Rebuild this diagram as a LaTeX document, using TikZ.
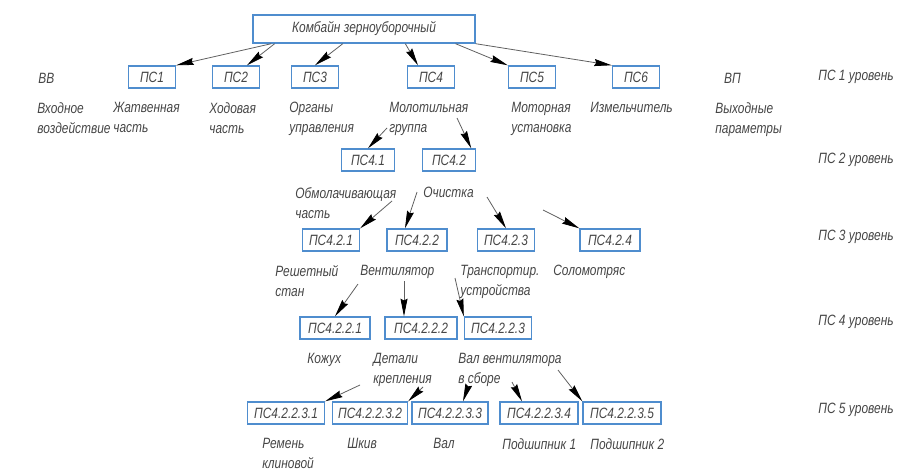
\documentclass[tikz,border=0pt]{standalone}
\usepackage{fontspec}
\setmainfont{Liberation Sans}[FakeStretch=0.8]
\usetikzlibrary{arrows.meta,calc}

\definecolor{boxblue}{RGB}{79,141,206}
\definecolor{textgray}{RGB}{70,70,70}
\definecolor{linegray}{RGB}{95,95,95}
\newcommand{\gost}{\fontsize{8.5}{11.3}\selectfont\itshape}

\tikzset{
  psbox/.style={draw=boxblue, line width=0.8pt, text=textgray, font=\gost,
    inner xsep=2pt, inner ysep=0pt, minimum height=0.44cm, minimum width=#1},
  psbox/.default=0.94cm,
  pslabel/.style={anchor=north west, align=left, inner sep=0pt, text=textgray, font=\gost},
  pslevel/.style={anchor=west, inner sep=0pt, text=textgray, font=\gost},
  psarrow/.style={draw=linegray, line width=0.45pt,
    -{Stealth[length=10pt,width=4pt,inset=1pt,color=black]}}
}

\begin{document}
\begin{tikzpicture}[x=0.02cm,y=-0.02cm]
      \useasboundingbox (0,0) rectangle (907,470);
      % Nodes: combine
      \node[psbox=4.44cm, minimum height=0.56cm] (K) at (364,29) { Комбайн зерноуборочный };
      % Nodes: level 1
      \node[psbox] (P1) at (152,77) { ПС1 };
      \node[psbox] (P2) at (236,77) { ПС2 };
      \node[psbox] (P3) at (315,77) { ПС3 };
      \node[psbox] (P4) at (431,77) { ПС4 };
      \node[psbox] (P5) at (532,77) { ПС5 };
      \node[psbox] (P6) at (636,77) { ПС6 };
      \node[pslabel, anchor=center] (VV) at (48,78) { ВВ };
      \node[pslabel, anchor=center] (VP) at (734,78) { ВП };
      \node[pslabel] (LIn) at (37,102) { Входное\\воздействие };
      \node[pslabel] (L1) at (113,102) { Жатвенная\\часть };
      \node[pslabel] (L2) at (209,102) { Ходовая\\часть };
      \node[pslabel] (L3) at (289,102) { Органы\\управления };
      \node[pslabel] (L4) at (389,102) { Молотильная\\группа };
      \node[pslabel] (L5) at (511,102) { Моторная\\установка };
      \node[pslabel] (L6) at (590,102) { Измельчитель };
      \node[pslabel] (LOut) at (715,102) { Выходные\\параметры };
      % Nodes: level 2
      \node[psbox=1.06cm] (P41) at (368,160) { ПС4.1 };
      \node[psbox=1.06cm] (P42) at (449,160) { ПС4.2 };
      \node[pslabel] (L41) at (295,187) { Обмолачивающая\\часть };
      \node[pslabel] (L42) at (423,187) { Очистка };
      % Nodes: level 3
      \node[psbox=1.14cm] (P421) at (331,240) { ПС4.2.1 };
      \node[psbox=1.2cm] (P422) at (417,240) { ПС4.2.2 };
      \node[psbox=1.14cm] (P423) at (506,240) { ПС4.2.3 };
      \node[psbox=1.2cm] (P424) at (610,240) { ПС4.2.4 };
      \node[pslabel] (L421) at (275,265) { Решетный\\стан };
      \node[pslabel] (L422) at (360,265) { Вентилятор };
      \node[pslabel] (L423) at (460,265) { Транспортир.\\устройства };
      \node[pslabel] (L424) at (553,265) { Соломотряс };
      % Nodes: level 4
      \node[psbox=1.4cm] (P4221) at (335,328) { ПС4.2.2.1 };
      \node[psbox=1.44cm] (P4222) at (421,328) { ПС4.2.2.2 };
      \node[psbox=1.34cm] (P4223) at (498,328) { ПС4.2.2.3 };
      \node[pslabel] (L4221) at (307,353) { Кожух };
      \node[pslabel] (L4222) at (373,353) { Детали\\крепления };
      \node[pslabel] (L4223) at (458,353) { Вал вентилятора\\в сборе };
      % Nodes: level 5
      \node[psbox=1.54cm] (P42231) at (286,413) { ПС4.2.2.3.1 };
      \node[psbox=1.5cm] (P42232) at (370,413) { ПС4.2.2.3.2 };
      \node[psbox=1.52cm] (P42233) at (450,413) { ПС4.2.2.3.3 };
      \node[psbox=1.56cm] (P42234) at (539,413) { ПС4.2.2.3.4 };
      \node[psbox=1.56cm] (P42235) at (622,413) { ПС4.2.2.3.5 };
      \node[pslabel] (L42231) at (262,438) { Ремень\\клиновой };
      \node[pslabel] (L42232) at (347,438) { Шкив };
      \node[pslabel] (L42233) at (433,438) { Вал };
      \node[pslabel] (L42234) at (502,438) { Подшипник 1 };
      \node[pslabel] (L42235) at (590,438) { Подшипник 2 };
      % Nodes: levels
      \node[pslevel] (S1) at (818,77) { ПС 1 уровень };
      \node[pslevel] (S2) at (818,160) { ПС 2 уровень };
      \node[pslevel] (S3) at (818,237) { ПС 3 уровень };
      \node[pslevel] (S4) at (818,322) { ПС 4 уровень };
      \node[pslevel] (S5) at (818,410) { ПС 5 уровень };
      % Arrows: combine to level 1
      \draw[psarrow] ($(K.south west)!0.085!(K.south east)$) -- (P1.north east);
      \draw[psarrow] ($(K.south west)!0.1!(K.south east)$) -- ($(P2.north)+(11,0)$);
      \draw[psarrow] ($(K.south west)!0.405!(K.south east)$) -- (P3.north);
      \draw[psarrow] ($(K.south west)!0.685!(K.south east)$) -- ($(P4.north)+(-13,0)$);
      \draw[psarrow] ($(K.south west)!0.91!(K.south east)$) -- (P5.north west);
      \draw[psarrow] (K.south east) -- (P6.north west);
      % Arrows: level 1 to 2
      \draw[psarrow] ($(L4.north west)+(-2,26)$) -- (P41.north);
      \draw[psarrow] ($(L4.north west)+(68,16)$) -- ($(P42.north east)+(-5,0)$);
      % Arrows: level 2 to 3
      \draw[psarrow] ($(L42.north west)+(-31,14)$) -- (P421.north east);
      \draw[psarrow] ($(L42.north west)+(-6,5)$) -- ($(P422.north)+(-12,0)$);
      \draw[psarrow] ($(L42.north west)+(64,10)$) -- (P423.north);
      \draw[psarrow] ($(L42.north west)+(120,23)$) -- (P424.north west);
      % Arrows: level 3 to 4
      \draw[psarrow] ($(L422.north west)+(-2,19)$) -- (P4221.north);
      \draw[psarrow] ($(L422.north west)+(44,16)$) -- ($(P4222.north)+(-17,0)$);
      \draw[psarrow] ($(L422.north west)+(95,13)$) -- (P4223.north west);
      % Arrows: level 4 to 5
      \draw[psarrow] ($(L4223.north west)+(-98,32)$) -- (P42231.north east);
      \draw[psarrow] ($(L4223.north west)+(-35,34)$) -- (P42232.north east);
      \draw[psarrow] ($(L4223.north west)+(10,34)$) -- ($(P42233.north)+(13,0)$);
      \draw[psarrow] ($(L4223.north west)+(54,29)$) -- ($(P42234.north)+(-17,0)$);
      \draw[psarrow] ($(L4223.north west)+(100,17)$) -- (P42235.north west);
\end{tikzpicture}
\end{document}
